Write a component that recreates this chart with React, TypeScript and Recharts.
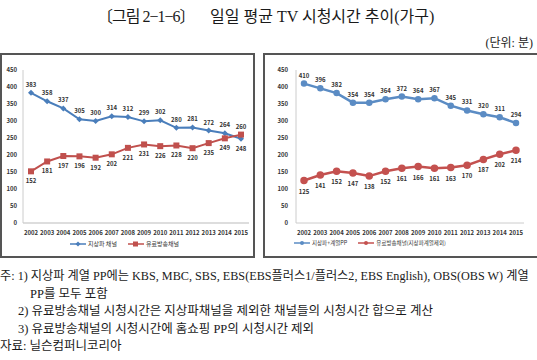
import React from 'react';
import { LineChart, Line, XAxis, YAxis, Legend, LabelList } from 'recharts';

const years = ['2002', '2003', '2004', '2005', '2006', '2007', '2008', '2009', '2010', '2011', '2012', '2013', '2014', '2015'];

// left: 지상파 채널 vs 유료방송채널
const terrestrial = [383, 358, 337, 305, 300, 314, 312, 299, 302, 280, 281, 272, 264, 248];
const payTv = [152, 181, 197, 196, 192, 202, 221, 231, 226, 228, 220, 235, 249, 260];

// right: 지상파+계열PP vs 유료방송채널(지상파계열제외)
const terrestrialPP = [410, 396, 382, 354, 354, 364, 372, 364, 367, 345, 331, 320, 311, 294];
const payTvExcl = [125, 141, 152, 147, 138, 152, 161, 166, 161, 163, 170, 187, 202, 214];

const yTicks = [0, 50, 100, 150, 200, 250, 300, 350, 400, 450];

const leftData = years.map((year, i) => ({ year, a: terrestrial[i], b: payTv[i] }));
const rightData = years.map((year, i) => ({ year, a: terrestrialPP[i], b: payTvExcl[i] }));

const BLUE = '#4a7ebb';
const RED = '#c0504d';
const BLUE2 = '#5b8cc4';
const RED2 = '#c4514f';
const chartFont = "'Noto Sans CJK KR', 'DejaVu Sans', sans-serif";

const makeLabel = (above: boolean, flipLast: boolean, upGap: number, downGap: number) => (props: any) => {
  const { x, y, value, index } = props;
  let up = above;
  if (flipLast && index === years.length - 1) up = !up;
  return (
    <text x={x} y={up ? y - upGap : y + downGap} textAnchor="middle" fontSize={6} fontWeight={700} fill="#333" fontFamily={chartFont}>
      {value}
    </text>
  );
};

const diamond = (props: any) => {
  const { cx, cy, index } = props;
  return <polygon key={'d' + index} points={`${cx},${cy - 3} ${cx + 3},${cy} ${cx},${cy + 3} ${cx - 3},${cy}`} fill={BLUE} />;
};
const square = (props: any) => {
  const { cx, cy, index } = props;
  return <rect key={'s' + index} x={cx - 3} y={cy - 3} width={6} height={6} fill={RED} />;
};

const LegendIcon = ({ color, shape }: { color: string; shape: string }) => (
  <svg width={16} height={6} style={{ marginRight: 2 }}>
    <line x1={0} y1={3} x2={16} y2={3} stroke={color} strokeWidth={1.5} />
    {shape === 'square' && <rect x={5} y={0.5} width={5} height={5} fill={color} />}
    {shape === 'diamond' && <polygon points="8,0.5 10.5,3 8,5.5 5.5,3" fill={color} />}
    {shape === 'circle' && <circle cx={8} cy={3} r={2} fill={color} />}
  </svg>
);

const legendLeft = () => (
  <div style={{ display: 'flex', justifyContent: 'center', alignItems: 'center', fontSize: 6, fontFamily: chartFont, color: '#333', gap: 11 }}>
    <span style={{ display: 'flex', alignItems: 'center' }}><LegendIcon color={BLUE} shape="diamond" />지상파 채널</span>
    <span style={{ display: 'flex', alignItems: 'center' }}><LegendIcon color={RED} shape="square" />유료방송채널</span>
  </div>
);

const legendRight = () => (
  <div style={{ display: 'flex', justifyContent: 'flex-start', alignItems: 'center', fontSize: 5.5, fontFamily: chartFont, color: '#333', gap: 11, paddingLeft: 31 }}>
    <span style={{ display: 'flex', alignItems: 'center' }}><LegendIcon color={BLUE2} shape="circle" />지상파+계열PP</span>
    <span style={{ display: 'flex', alignItems: 'center' }}><LegendIcon color={RED2} shape="circle" />유료방송채널(지상파계열제외)</span>
  </div>
);

const tickStyle = { fontSize: 6, fill: '#333', fontFamily: chartFont, fontWeight: 700 };

const notes = [
  { text: '주: 1) 지상파 계열 PP에는 KBS, MBC, SBS, EBS(EBS플러스1/플러스2, EBS English), OBS(OBS W) 계열', left: 0, top: 268, size: 12.2 },
  { text: 'PP를 모두 포함', left: 30, top: 286, size: 12.5 },
  { text: '2) 유료방송채널 시청시간은 지상파채널을 제외한 채널들의 시청시간 합으로 계산', left: 18, top: 303, size: 12.5 },
  { text: '3) 유료방송채널의 시청시간에 홈쇼핑 PP의 시청시간 제외', left: 18, top: 321, size: 12.5 },
  { text: '자료: 닐슨컴퍼니코리아', left: 0, top: 338, size: 12.5 },
];

export default function App() {
  return (
    <div style={{ position: 'absolute', left: 0, top: 0, width: 537, height: 360, overflow: 'hidden', background: '#fff', fontFamily: "'Liberation Serif', 'Noto Sans CJK KR', serif", color: '#1a1a1a' }}>
      <div style={{ position: 'absolute', top: 7, left: 97, fontSize: 16, lineHeight: '20px', whiteSpace: 'pre', letterSpacing: -1 }}>
        {'〔그림 2−1−6〕'}
      </div>
      <div style={{ position: 'absolute', top: 7, left: 210, fontSize: 16, lineHeight: '20px', whiteSpace: 'pre' }}>
        {'일일 평균 TV 시청시간 추이(가구)'}
      </div>
      <div style={{ position: 'absolute', top: 35, right: 4, fontSize: 12, lineHeight: '16px' }}>(단위: 분)</div>

      <div style={{ position: 'absolute', left: 0, top: 53, width: 255, height: 205, border: '2px solid #555', boxSizing: 'border-box' }} />
      <div style={{ position: 'absolute', left: 0, top: 53 }}>
        <LineChart width={255} height={205} data={leftData} margin={{ top: 17, right: 6, left: 0, bottom: 5 }}>
          <XAxis dataKey="year" interval={0} tick={tickStyle} tickLine={false} axisLine={{ stroke: '#bbb' }} height={16} padding={{ left: 8, right: 8 }} />
          <YAxis domain={[0, 450]} ticks={yTicks} width={23} tick={tickStyle} tickLine={false} tickSize={4} axisLine={{ stroke: '#ccc' }} />
          <Legend verticalAlign="bottom" height={14} content={legendLeft} />
          <Line dataKey="a" stroke={BLUE} strokeWidth={2} dot={diamond} isAnimationActive={false}>
            <LabelList dataKey="a" content={makeLabel(true, true, 6, 12)} />
          </Line>
          <Line dataKey="b" stroke={RED} strokeWidth={2} dot={square} isAnimationActive={false}>
            <LabelList dataKey="b" content={makeLabel(false, true, 6, 12)} />
          </Line>
        </LineChart>
      </div>

      <div style={{ position: 'absolute', left: 263, top: 53, width: 285, height: 205, border: '2px solid #555', boxSizing: 'border-box' }} />
      <div style={{ position: 'absolute', left: 263, top: 53 }}>
        <LineChart width={274} height={205} data={rightData} margin={{ top: 17, right: 13, left: 0, bottom: 5 }}>
          <XAxis dataKey="year" interval={0} tick={tickStyle} tickLine={false} axisLine={{ stroke: '#ccc' }} height={16} padding={{ left: 8, right: 8 }} />
          <YAxis domain={[0, 450]} ticks={yTicks} width={33} tick={tickStyle} tickLine={false} tickSize={6} axisLine={{ stroke: '#ccc' }} />
          <Legend verticalAlign="bottom" height={14} content={legendRight} />
          <Line dataKey="a" stroke={BLUE2} strokeWidth={2.5} dot={{ r: 2, fill: BLUE2, stroke: BLUE2 }} isAnimationActive={false}>
            <LabelList dataKey="a" content={makeLabel(true, false, 6, 12)} />
          </Line>
          <Line dataKey="b" stroke={RED2} strokeWidth={2.5} dot={{ r: 2.5, fill: RED2, stroke: RED2 }} isAnimationActive={false}>
            <LabelList dataKey="b" content={makeLabel(false, false, 6, 13)} />
          </Line>
        </LineChart>
      </div>

      {notes.map((n, i) => (
        <div key={i} style={{ position: 'absolute', left: n.left, top: n.top, fontSize: n.size, lineHeight: '17px', whiteSpace: 'nowrap' }}>
          {n.text}
        </div>
      ))}
    </div>
  );
}
